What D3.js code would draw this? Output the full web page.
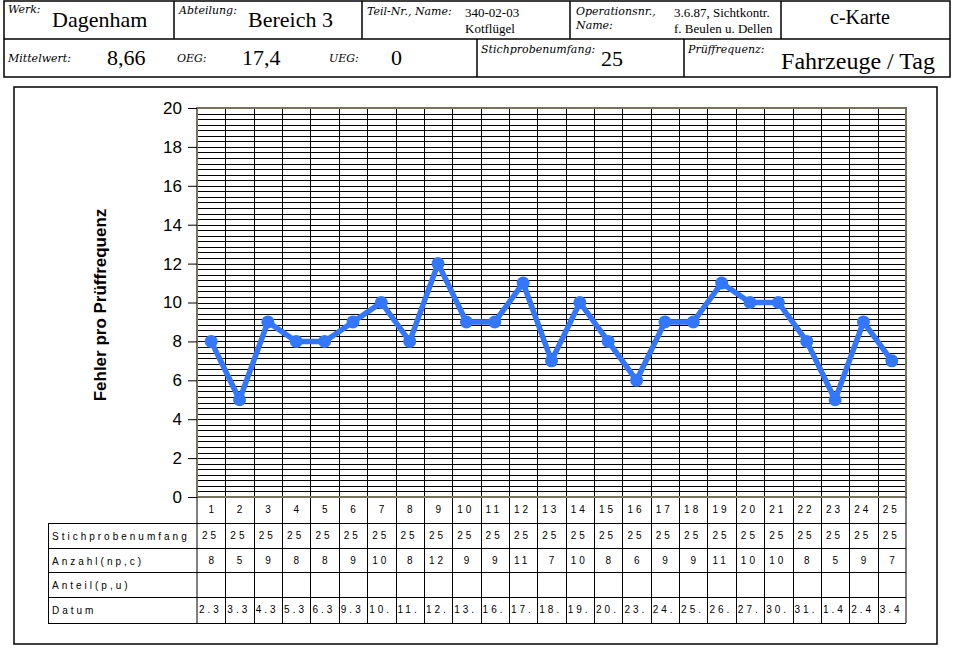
<!DOCTYPE html>
<html>
<head>
<meta charset="utf-8">
<script src="https://cdn.jsdelivr.net/npm/d3@7/dist/d3.min.js"></script>
<style>
  body { margin: 0; background: #fff; }
  svg { display: block; }
  .lbl { font-family: 'DejaVu Serif', serif; font-style: italic; font-size: 11px; }
  .big { font-family: 'Liberation Serif', 'Times New Roman', serif; font-size: 22px; }
  .sm { font-family: 'Liberation Serif', 'Times New Roman', serif; font-size: 13px; }
  .tbl { font-family: 'Liberation Sans', Arial, sans-serif; font-size: 10px; letter-spacing: 3px; }
  .axis text { font-family: 'Liberation Sans', Arial, sans-serif; font-size: 17px; }
</style>
</head>
<body>
<svg id="chart" width="953" height="651"></svg>
<script>
// chart values
var samples = d3.range(1, 26);
var counts = [8, 5, 9, 8, 8, 9, 10, 8, 12, 9, 9, 11, 7, 10, 8, 6, 9, 9, 11, 10, 10, 8, 5, 9, 7];
var sampleSize = [25, 25, 25, 25, 25, 25, 25, 25, 25, 25, 25, 25, 25, 25, 25, 25, 25, 25, 25, 25, 25, 25, 25, 25, 25];
var dates = ['2.3', '3.3', '4.3', '5.3', '6.3', '9.3', '10.', '11.', '12.', '13.', '16.', '17.', '18.',
  '19.', '20.', '23.', '24.', '25.', '26.', '27.', '30.', '31.', '1.4', '2.4', '3.4'];
var yTicks = [0, 2, 4, 6, 8, 10, 12, 14, 16, 18, 20];
var rowLabels = ['Stichprobenumfang', 'Anzahl(np,c)', 'Anteil(p,u)', 'Datum'];

function drawChart() {
  var svg = d3.select('#chart');

  // ---- header form ----
  var g = svg.append('g').attr('fill', 'none').attr('stroke', '#000').attr('stroke-width', 1.5);
  g.append('rect').attr('x', 4).attr('y', 1).attr('width', 946).attr('height', 76);
  g.append('line').attr('x1', 4).attr('x2', 950).attr('y1', 39).attr('y2', 39);
  [174, 362, 570, 781].forEach(function(x) {
    g.append('line').attr('x1', x).attr('x2', x).attr('y1', 1).attr('y2', 39);
  });
  [477, 684].forEach(function(x) {
    g.append('line').attr('x1', x).attr('x2', x).attr('y1', 39).attr('y2', 77);
  });

  var texts = [
    ['lbl', 8, 13, 'Werk:'], ['big', 52, 27, 'Dagenham'],
    ['lbl', 179, 14, 'Abteilung:'], ['big', 248, 27, 'Bereich 3'],
    ['lbl', 367, 15, 'Teil-Nr., Name:'], ['sm', 465, 17, '340-02-03'], ['sm', 465, 33, 'Kotflügel'],
    ['lbl', 576, 15, 'Operationsnr.,'], ['lbl', 576, 29, 'Name:'],
    ['sm', 674, 17, '3.6.87, Sichtkontr.'], ['sm', 674, 33, 'f. Beulen u. Dellen'],
    ['lbl', 8, 62, 'Mittelwert:'], ['big', 107, 65, '8,66'],
    ['lbl', 177, 62, 'OEG:'], ['big', 242, 65, '17,4'],
    ['lbl', 329, 62, 'UEG:'], ['big', 391, 65, '0'],
    ['lbl', 481, 53, 'Stichprobenumfang:'], ['big', 601, 66, '25'],
    ['lbl', 688, 53, 'Prüffrequenz:']
  ];
  texts.forEach(function(t) {
    svg.append('text').attr('class', t[0]).attr('x', t[1]).attr('y', t[2]).text(t[3]);
  });
  svg.append('text').attr('class', 'big').attr('x', 860).attr('y', 24)
    .attr('text-anchor', 'middle').style('font-size', '20px').text('c-Karte');
  svg.append('text').attr('class', 'big').attr('x', 858).attr('y', 69)
    .attr('text-anchor', 'middle').style('font-size', '24px').text('Fahrzeuge / Tag');

  // outer chart frame
  svg.append('rect').attr('x', 14).attr('y', 87).attr('width', 923).attr('height', 557)
    .attr('fill', 'none').attr('stroke', '#000').attr('stroke-width', 1.5);

  // ---- plot ----
  var pLeft = 197, pRight = 906, pTop = 108, pBottom = 497, tBottom = 623;
  var x = d3.scaleBand().domain(samples).range([pLeft, pRight]);
  var y = d3.scaleLinear().domain([0, 20]).range([pBottom, pTop]);

  // fine horizontal grid, 7 lines per 2 units
  var gridVals = d3.range(0, 71).map(function(i) { return i * 20 / 70; });
  svg.append('g').selectAll('line').data(gridVals).enter().append('line')
    .attr('x1', pLeft).attr('x2', pRight)
    .attr('y1', function(d) { return Math.round(y(d)) + 0.5; })
    .attr('y2', function(d) { return Math.round(y(d)) + 0.5; })
    .attr('stroke', '#000').attr('stroke-width', 1);

  svg.append('g').selectAll('line').data(samples.slice(1)).enter().append('line')
    .attr('x1', function(d) { return Math.round(x(d)) + 0.5; })
    .attr('x2', function(d) { return Math.round(x(d)) + 0.5; })
    .attr('y1', pTop).attr('y2', tBottom)
    .attr('stroke', '#000').attr('stroke-width', 1);

  // plot border
  svg.append('rect').attr('x', pLeft).attr('y', pTop).attr('width', pRight - pLeft).attr('height', pBottom - pTop)
    .attr('fill', 'none').attr('stroke', '#77725e').attr('stroke-width', 2);

  var yAxis = d3.axisLeft(y).tickValues(yTicks).tickSize(9).tickPadding(6);
  var ya = svg.append('g').attr('class', 'axis').attr('transform', 'translate(' + pLeft + ',0)').call(yAxis);
  ya.select('.domain').remove();
  ya.selectAll('.tick line').attr('stroke', '#000');

  svg.append('text')
    .attr('transform', 'translate(106,305) rotate(-90)')
    .attr('text-anchor', 'middle')
    .style('font-family', "'Liberation Sans', Arial, sans-serif")
    .style('font-size', '17px').style('font-weight', 'bold')
    .text('Fehler pro Prüffrequenz');

  // series
  var cx = function(d, i) { return x(samples[i]) + x.bandwidth() / 2; };
  var line = d3.line().x(cx).y(function(d) { return y(d); });
  svg.append('path').datum(counts).attr('d', line)
    .attr('fill', 'none').attr('stroke', '#3377ff').attr('stroke-width', 5.5).attr('stroke-linejoin', 'round');
  svg.append('g').selectAll('circle').data(counts).enter().append('circle')
    .attr('cx', cx).attr('cy', function(d) { return y(d); }).attr('r', 6.5)
    .attr('fill', '#3377ff');

  // ---- table under the plot ----
  var rows = [497, 523, 548, 572, 597, 623];
  var tg = svg.append('g').attr('stroke', '#000').attr('stroke-width', 1);
  tg.append('line').attr('x1', pLeft).attr('x2', pLeft).attr('y1', pBottom).attr('y2', tBottom);
  tg.append('line').attr('x1', pRight).attr('x2', pRight).attr('y1', pBottom).attr('y2', tBottom);
  rows.slice(1).forEach(function(r) {
    tg.append('line').attr('x1', 48).attr('x2', pRight).attr('y1', r + 0.5).attr('y2', r + 0.5);
  });
  tg.append('line').attr('x1', 48.5).attr('x2', 48.5).attr('y1', 523).attr('y2', tBottom);

  rowLabels.forEach(function(l, i) {
    svg.append('text').attr('class', 'tbl').attr('x', 52).attr('y', rows[i + 1] + 17).text(l);
  });

  function cellText(vals, row, pad) {
    svg.append('g').selectAll('text').data(vals).enter().append('text')
      .attr('class', 'tbl')
      .attr('x', function(d, i) {
        var s = String(d);
        return x(samples[i]) + (pad ? 5 + (2 - s.length) * 6.5 : 2);
      })
      .attr('y', rows[row] + 16)
      .text(function(d) { return d; });
  }
  cellText(samples, 0, true);
  cellText(sampleSize, 1, true);
  cellText(counts, 2, true);
  cellText(dates, 4, false);
}
drawChart();
</script>
</body>
</html>
